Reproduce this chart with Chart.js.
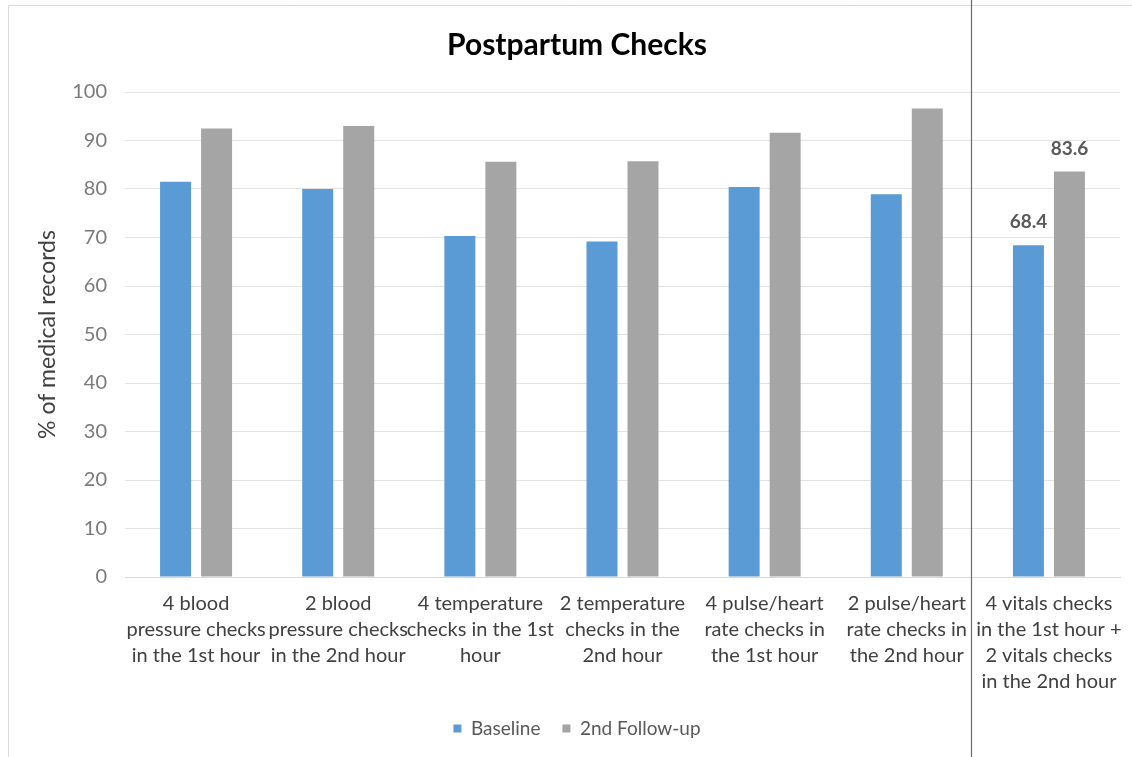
<!DOCTYPE html>
<html>
<head>
<meta charset="utf-8">
<title>Postpartum Checks</title>
<script src="https://cdn.jsdelivr.net/npm/chart.js@4.4.1/dist/chart.umd.min.js"></script>
<style>
  html, body { margin: 0; padding: 0; background: #ffffff; }
  #wrap { width: 1132px; height: 757px; position: relative; }
</style>
</head>
<body>
<div id="wrap"><canvas id="chart"></canvas></div>
<script>
const categories = [
  ["4 blood", "pressure checks", "in the 1st hour"],
  ["2 blood", "pressure checks", "in the 2nd hour"],
  ["4 temperature", "checks in the 1st", "hour"],
  ["2 temperature", "checks in the", "2nd hour"],
  ["4 pulse/heart", "rate checks in", "the 1st hour"],
  ["2 pulse/heart", "rate checks in", "the 2nd hour"],
  ["4 vitals checks", "in the 1st hour +", "2 vitals checks", "in the 2nd hour"],
];
const baseline = [81.5, 80.0, 70.3, 69.2, 80.4, 78.9, 68.4];
const followUp = [92.5, 93.0, 85.6, 85.7, 91.6, 96.6, 83.6];
const seriesNames = ["Baseline", "2nd Follow-up"];
const labelledIndex = 6; // only the combined group carries value labels
const dividerAt = 5.45;  // category position of the separator line

const FONT = "Lato, 'Open Sans', sans-serif";

// frame, separator and value labels
const decorations = {
  id: "decorations",
  beforeDraw(chart) {
    const { ctx, width, height } = chart;
    ctx.save();
    ctx.strokeStyle = "#d9d9d9";
    ctx.lineWidth = 1;
    ctx.beginPath();
    ctx.moveTo(8.5, height + 2);
    ctx.lineTo(8.5, 5.5);
    ctx.lineTo(width + 2, 5.5);
    ctx.stroke();
    ctx.restore();
  },
  afterDraw(chart) {
    const { ctx, height } = chart;
    const x = Math.round(chart.scales.x.getPixelForValue(dividerAt)) + 0.5;
    ctx.save();
    ctx.strokeStyle = "#6b6b6b";
    ctx.lineWidth = 1.2;
    ctx.beginPath();
    ctx.moveTo(x, 0);
    ctx.lineTo(x, height);
    ctx.stroke();

    ctx.fillStyle = "#595959";
    ctx.font = "bold 19px " + FONT;
    ctx.textAlign = "center";
    ctx.textBaseline = "middle";
    chart.data.datasets.forEach((ds, i) => {
      const bar = chart.getDatasetMeta(i).data[labelledIndex];
      ctx.fillText(ds.data[labelledIndex].toFixed(1), bar.x, bar.y - 23);
    });
    ctx.restore();
  },
};

new Chart(document.getElementById("chart"), {
  type: "bar",
  data: {
    labels: categories,
    datasets: [
      {
        label: seriesNames[0],
        data: baseline,
        backgroundColor: "#5b9bd5",
        categoryPercentage: 0.577,
        barPercentage: 0.756,
      },
      {
        label: seriesNames[1],
        data: followUp,
        backgroundColor: "#a5a5a5",
        categoryPercentage: 0.577,
        barPercentage: 0.756,
      },
    ],
  },
  options: {
    responsive: true,
    maintainAspectRatio: false,
    animation: false,
    layout: { padding: { left: 34, right: 12, top: 8, bottom: 9 } },
    plugins: {
      title: {
        display: true,
        text: "Postpartum Checks",
        color: "#000000",
        font: { family: FONT, size: 30, weight: "bold" },
        padding: { top: 19, bottom: 29 },
      },
      legend: {
        display: true,
        position: "bottom",
        labels: {
          font: { family: FONT, size: 19 },
          color: "#595959",
          boxWidth: 8,
          boxHeight: 8,
          padding: 22,
        },
      },
      tooltip: { enabled: false },
    },
    scales: {
      x: {
        grid: { display: false },
        border: { display: true, color: "#d9d9d9" },
        ticks: {
          color: "#404040",
          font: { family: FONT, size: 20, lineHeight: 1.3 },
          padding: 6,
          maxRotation: 0,
          autoSkip: false,
        },
        afterFit(scale) {
          scale.height = 120;
        },
      },
      y: {
        min: 0,
        max: 100,
        ticks: {
          stepSize: 10,
          color: "#7a7a7a",
          font: { family: FONT, size: 20 },
          padding: 18,
        },
        grid: { color: "#e3e3e3", drawTicks: false },
        border: { display: false },
        title: {
          display: true,
          text: "% of medical records",
          color: "#404040",
          font: { family: FONT, size: 23 },
          padding: { top: 0, bottom: 0 },
        },
        afterFit(scale) {
          scale.width = 91;
        },
      },
    },
  },
  plugins: [decorations],
});
</script>
</body>
</html>
